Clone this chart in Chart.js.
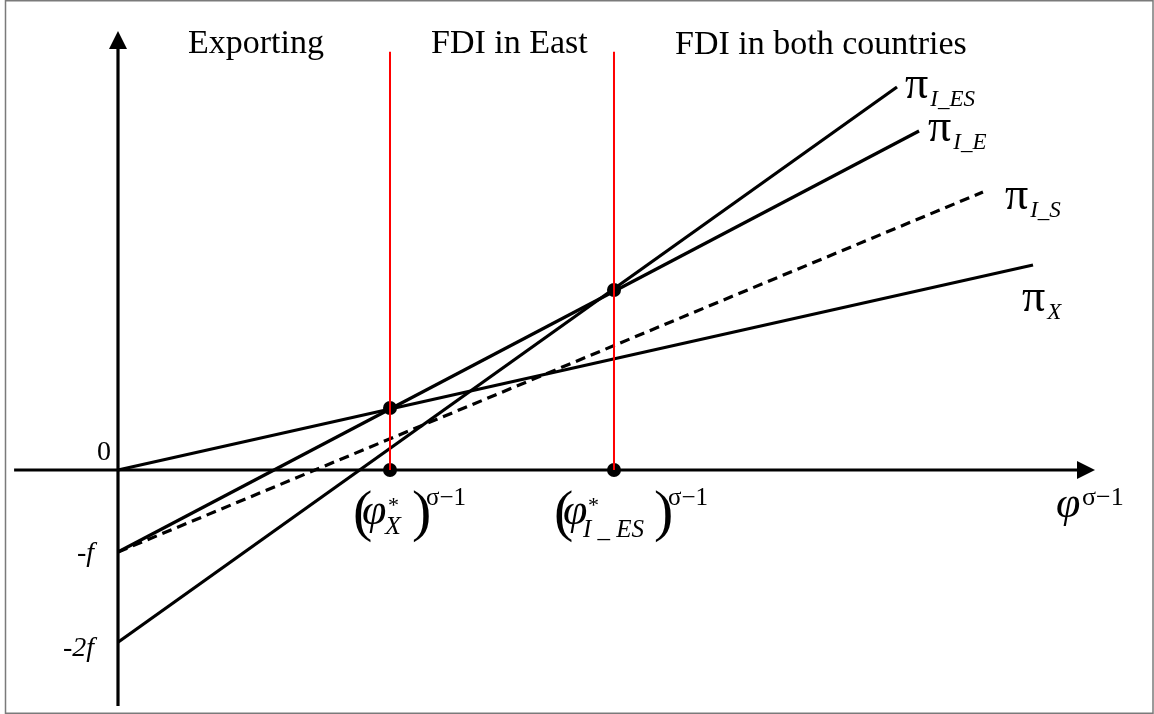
<!DOCTYPE html>
<html>
<head>
<meta charset="utf-8">
<script src="https://cdn.jsdelivr.net/npm/chart.js@4/dist/chart.umd.min.js"></script>
<style>
  html, body { margin: 0; padding: 0; background: #fff; }
  #wrap { width: 1154px; height: 714px; position: relative; }
</style>
</head>
<body>
<div id="wrap"><canvas id="c" width="1154" height="714"></canvas></div>
<script>
// ---- data (units: x in phi^(sigma-1) with phi_X* = 1, y in units of f) ----
const regionLabels = ['Exporting', 'FDI in East', 'FDI in both countries'];
const yTickValues = [0, -1, -2.1];
const yTickLabels = ['0', '-f', '-2f'];
const cutoffX = [1, 1.8235];              // (phi_X*)^(s-1), (phi_I_ES*)^(s-1)
const cutoffTop = 5.1;                    // top of red separators
const piX_x = [0, 3.364],   piX_y = [0, 2.5];
const piIS_x = [0, 3.18],   piIS_y = [-1, 3.39];
const piIE_x = [0, 2.945],  piIE_y = [-1, 4.134];
const piIES_x = [0, 2.864], piIES_y = [-2.1, 4.67];
const dotX = [1, 1.8235, 1, 1.8235];
const dotY = [0.756, 2.195, 0, 0];
const xAxisRange = [-0.382, 3.592];
const yAxisRange = [-2.878, 5.354];

const pts = (xs, ys) => xs.map((x, i) => ({ x: x, y: ys[i] }));

const serif = '"Liberation Serif", "Times New Roman", serif';

const drawPlugin = {
  id: 'diagram',
  beforeDatasetsDraw(chart) {
    const ctx = chart.ctx, xs = chart.scales.x, ys = chart.scales.y;
    const ox = xs.getPixelForValue(0), oy = ys.getPixelForValue(0);
    ctx.save();
    // frame
    ctx.strokeStyle = '#7a7a7a'; ctx.lineWidth = 1.5;
    ctx.strokeRect(5.5, 0.75, 1147.5, 712.5);
    // axes
    ctx.strokeStyle = '#000'; ctx.fillStyle = '#000'; ctx.lineWidth = 3.2;
    const x0 = xs.getPixelForValue(xAxisRange[0]), x1 = xs.getPixelForValue(xAxisRange[1]);
    const y0 = ys.getPixelForValue(yAxisRange[0]), y1 = ys.getPixelForValue(yAxisRange[1]);
    ctx.beginPath(); ctx.moveTo(x0, oy); ctx.lineTo(x1 - 10, oy); ctx.stroke();
    ctx.beginPath(); ctx.moveTo(ox, y0); ctx.lineTo(ox, y1 + 10); ctx.stroke();
    ctx.beginPath(); ctx.moveTo(x1, oy); ctx.lineTo(x1 - 18, oy - 9); ctx.lineTo(x1 - 18, oy + 9); ctx.closePath(); ctx.fill();
    ctx.beginPath(); ctx.moveTo(ox, y1); ctx.lineTo(ox - 9, y1 + 18); ctx.lineTo(ox + 9, y1 + 18); ctx.closePath(); ctx.fill();
    ctx.restore();
  },
  afterDatasetsDraw(chart) {
    const ctx = chart.ctx, xs = chart.scales.x, ys = chart.scales.y;
    const ox = xs.getPixelForValue(0), oy = ys.getPixelForValue(0);
    const t = (s, x, y, font, align, base) => {
      ctx.font = font; ctx.textAlign = align || 'left'; ctx.textBaseline = base || 'alphabetic';
      ctx.fillText(s, x, y);
    };
    ctx.save();
    ctx.fillStyle = '#000';
    // region headings
    t(regionLabels[0], 188, 53, '34px ' + serif);
    t(regionLabels[1], 431, 53, '34px ' + serif);
    t(regionLabels[2], 675, 54, '34px ' + serif);
    // y tick labels
    t(yTickLabels[0], ox - 7, ys.getPixelForValue(yTickValues[0]) - 10, '28px ' + serif, 'right');
    t(yTickLabels[1], ox - 24, ys.getPixelForValue(yTickValues[1]) + 2, 'italic 28px ' + serif, 'right', 'middle');
    t(yTickLabels[2], ox - 24, ys.getPixelForValue(yTickValues[2]) + 6, 'italic 28px ' + serif, 'right', 'middle');
    // x labels
    const cx1 = xs.getPixelForValue(cutoffX[0]);
    t('(', cx1 - 37, 530, '58px ' + serif);
    t('\u03C6', cx1 - 28, 524, 'italic 44px ' + serif);
    t('*', cx1 - 2, 512, '22px ' + serif);
    t('X', cx1 - 5, 534, 'italic 26px ' + serif);
    t(')', cx1 + 22, 530, '58px ' + serif);
    t('\u03C3\u22121', cx1 + 36, 505, '25px ' + serif);
    const cx2 = xs.getPixelForValue(cutoffX[1]);
    t('(', cx2 - 60, 530, '58px ' + serif);
    t('\u03C6', cx2 - 51, 524, 'italic 44px ' + serif);
    t('*', cx2 - 26, 512, '22px ' + serif);
    t('I _ ES', cx2 - 31, 537, 'italic 25px ' + serif);
    t(')', cx2 + 40, 530, '58px ' + serif);
    t('\u03C3\u22121', cx2 + 54, 505, '25px ' + serif);
    const ax = xs.getPixelForValue(xAxisRange[1]);
    t('\u03C6', ax - 39, 517, 'italic 44px ' + serif);
    t('\u03C3\u22121', ax - 13, 505, '26px ' + serif);
    // line labels
    const lab = (xv, yv, dx, dy, sub) => {
      const px = xs.getPixelForValue(xv) + dx, py = ys.getPixelForValue(yv) + dy;
      ctx.font = '46px ' + serif; ctx.textAlign = 'left'; ctx.textBaseline = 'alphabetic';
      ctx.fillText('\u03C0', px, py);
      const w = ctx.measureText('\u03C0').width;
      t(sub, px + w + 2, py + 8, 'italic 23px ' + serif);
    };
    lab(piIES_x[1], piIES_y[1], 8, 11, 'I_ES');
    lab(piIE_x[1], piIE_y[1], 9, 10, 'I_E');
    lab(piIS_x[1], piIS_y[1], 22, 17, 'I_S');
    lab(piX_x[1], piX_y[1], -11, 46, 'X');
    ctx.restore();
  }
};

const lineDs = (label, data, dash) => ({
  label, data, showLine: true, borderColor: '#000', borderWidth: 3.2,
  borderDash: dash || [], pointRadius: 0, tension: 0, fill: false, clip: false
});

new Chart(document.getElementById('c'), {
  type: 'scatter',
  data: {
    datasets: [
      { label: 'cut1', data: [{ x: cutoffX[0], y: 0 }, { x: cutoffX[0], y: cutoffTop }], showLine: true,
        borderColor: '#ff0000', borderWidth: 2, pointRadius: 0, clip: false },
      { label: 'cut2', data: [{ x: cutoffX[1], y: 0 }, { x: cutoffX[1], y: cutoffTop }], showLine: true,
        borderColor: '#ff0000', borderWidth: 2, pointRadius: 0, clip: false },
      { label: 'dots', data: pts(dotX, dotY), pointRadius: 7, pointBackgroundColor: '#000',
        pointBorderWidth: 0, showLine: false, clip: false },
      lineDs('\u03C0_X', pts(piX_x, piX_y)),
      lineDs('\u03C0_I_S', pts(piIS_x, piIS_y), [10, 6]),
      lineDs('\u03C0_I_E', pts(piIE_x, piIE_y)),
      lineDs('\u03C0_I_ES', pts(piIES_x, piIES_y))
    ]
  },
  options: {
    responsive: false,
    animation: false,
    events: [],
    layout: { padding: 0, autoPadding: false },
    plugins: { legend: { display: false }, tooltip: { enabled: false } },
    scales: {
      x: { type: 'linear', display: false, min: -118 / 272, max: (1154 - 118) / 272 },
      y: { type: 'linear', display: false, min: -(714 - 470) / 82, max: 470 / 82 }
    }
  },
  plugins: [drawPlugin]
});
</script>
</body>
</html>
